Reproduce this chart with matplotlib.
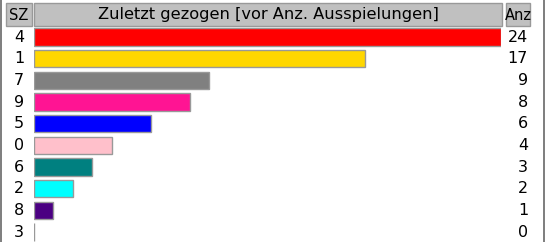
import matplotlib.pyplot as plt
from matplotlib.patches import Rectangle

# data
numbers = ['4', '1', '7', '9', '5', '0', '6', '2', '8', '3']
counts = [24, 17, 9, 8, 6, 4, 3, 2, 1, 0]
colors = ['#ff0000', '#ffd700', '#808080', '#ff1493', '#0000ff',
          '#ffc0cb', '#008080', '#00ffff', '#4b0082', '#ffffff']
header = ['SZ', 'Zuletzt gezogen [vor Anz. Ausspielungen]', 'Anz']

W, H = 546, 242
fig = plt.figure(figsize=(W / 100, H / 100), dpi=100)
fig.patch.set_facecolor('white')


def px(x0, y0, w, h):
    """ pixel box (top-left origin) -> figure fraction """
    return [x0 / W, 1 - (y0 + h) / H, w / W, h / H]


# outer frame lines left/right
fig.add_artist(Rectangle((0, 0), 2 / W, 1, transform=fig.transFigure,
                         color='#808080', lw=0))
fig.add_artist(Rectangle((543 / W, 0), 2 / W, 1, transform=fig.transFigure,
                         color='#808080', lw=0))

# header cells
cells = [(6, 26), (34, 468), (506, 24)]
hsizes = [10.5, 11.7, 10.5]
for (x0, w), txt, fs in zip(cells, header, hsizes):
    fig.add_artist(Rectangle((x0 / W, 1 - 26 / H), w / W, 23 / H,
                             transform=fig.transFigure, facecolor='#c0c0c0',
                             edgecolor='#999999', lw=1))
    fig.text((x0 + w / 2) / W, 1 - 15 / H, txt, ha='center', va='center',
             fontsize=fs, color='black')

# bars
pitch = 21.67
top = 37 - pitch / 2
ax = fig.add_axes(px(34, top, 467, pitch * len(counts)))
ypos = range(len(counts))
ax.barh(ypos, counts, height=0.79, color=colors, edgecolor='#999999',
        linewidth=1, align='center')
ax.set_xlim(0, 24)
ax.set_ylim(len(counts) - 0.5, -0.5)
ax.axis('off')

for i, (n, c) in enumerate(zip(numbers, counts)):
    yc = 1 - (37 + pitch * i) / H
    fig.text(19 / W, yc, n, ha='center', va='center', fontsize=11.5)
    fig.text(528 / W, yc, str(c), ha='right', va='center', fontsize=11.5)

plt.savefig('out.png', dpi=100)
